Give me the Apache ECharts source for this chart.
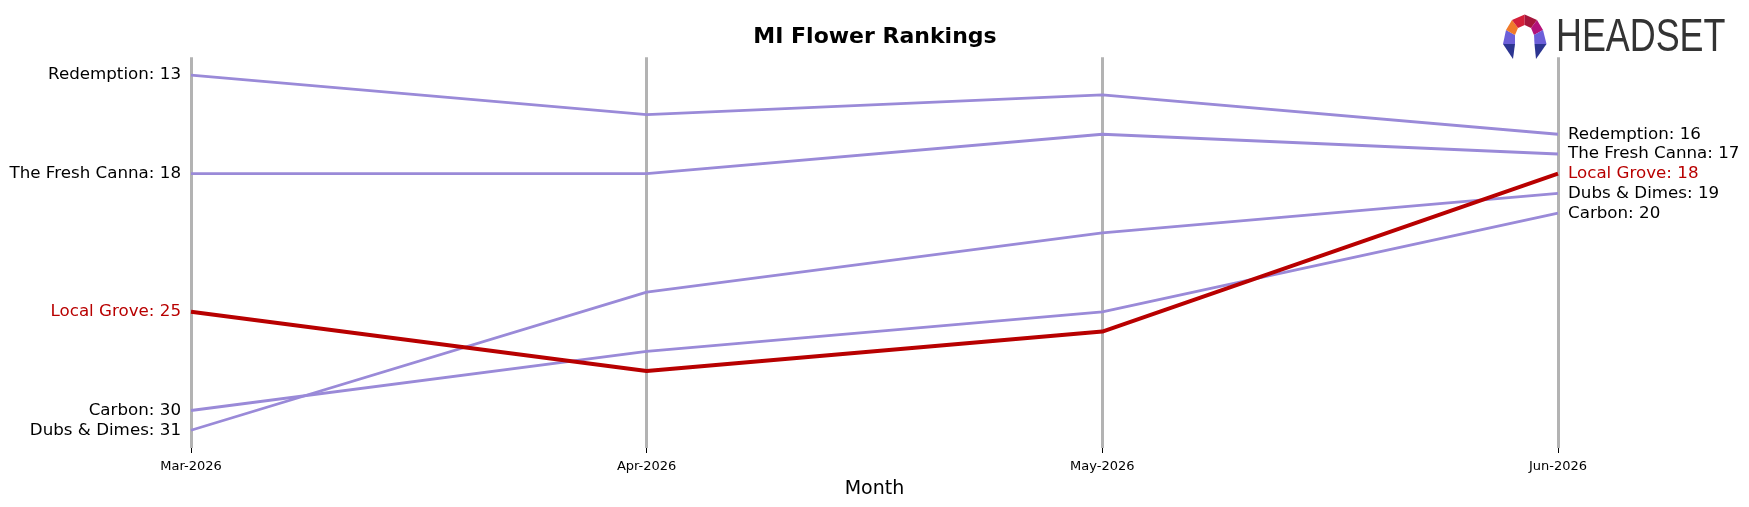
<!DOCTYPE html>
<html>
<head>
<meta charset="utf-8">
<script src="https://cdn.jsdelivr.net/npm/echarts@6/dist/echarts.min.js"></script>
<style>
    html, body { margin: 0; padding: 0; background: #fff; }
    #chart { width: 1749px; height: 507px; }
</style>
</head>
<body>
<div id="chart"></div>
<script>
    var months = ['Mar-2026', 'Apr-2026', 'May-2026', 'Jun-2026'];
    var brands = ['Redemption', 'The Fresh Canna', 'Dubs & Dimes', 'Carbon', 'Local Grove'];
    var redemption = [13, 15, 14, 16];
    var freshCanna = [18, 18, 16, 17];
    var dubsDimes = [31, 24, 21, 19];
    var carbon = [30, 27, 25, 20];
    var localGrove = [25, 28, 26, 18];
    var highlight = 'Local Grove';

    var ranks = [redemption, freshCanna, dubsDimes, carbon, localGrove];
    var purple = '#9a8ad8';
    var red = '#b80000';
    var font = 'DejaVu Sans';

    var chart = echarts.init(document.getElementById('chart'));

    var series = [];
    for (var i = 0; i < brands.length; i++) {
        var isHi = brands[i] == highlight;
        var color = isHi ? red : purple;
        var vals = ranks[i];
        var data = [];
        for (var j = 0; j < vals.length; j++) {
            var item = { value: vals[j] };
            // name labels only at the first and last month
            if (j == 0 || j == vals.length - 1) {
                item.label = {
                    show: true,
                    position: j == 0 ? 'left' : 'right',
                    distance: 10,
                    formatter: brands[i] + ': ' + vals[j],
                    color: isHi ? red : '#000',
                    fontFamily: font,
                    fontSize: 16.7
                };
            }
            data.push(item);
        }
        series.push({
            name: brands[i],
            type: 'line',
            data: data,
            symbol: 'circle',
            symbolSize: 0,
            showSymbol: true,
            silent: true,
            z: isHi ? 5 : 3,
            lineStyle: { color: color, width: isHi ? 4 : 2.8 },
            itemStyle: { color: color }
        });
    }

    // logo pieces
    var outer = [[1503, 44], [1506, 30], [1512, 20], [1524.7, 14.5], [1537, 20], [1543, 30], [1546.5, 44]];
    var inner = [[1515, 44], [1515, 35], [1518, 28], [1524.7, 25], [1531, 28], [1534, 35], [1534.5, 44]];
    var pieceColors = ['#6c5fd9', '#f07a2a', '#d4203a', '#a5163c', '#b3127a', '#6c5fd9'];
    var logo = [];
    for (var k = 0; k < pieceColors.length; k++) {
        logo.push({
            type: 'polygon',
            shape: { points: [outer[k], outer[k + 1], inner[k + 1], inner[k]] },
            style: { fill: pieceColors[k] }
        });
    }
    logo.push({ type: 'polygon', shape: { points: [[1503, 44], [1515, 44], [1513, 59]] }, style: { fill: '#2c3591' } });
    logo.push({ type: 'polygon', shape: { points: [[1534.5, 44], [1546.5, 44], [1536, 59]] }, style: { fill: '#2c3591' } });
    logo.push({
        type: 'text',
        x: 1556, y: 38,
        scaleX: 0.78,
        style: {
            text: 'HEADSET',
            font: '46px "Liberation Sans"',
            fill: '#333',
            verticalAlign: 'middle'
        }
    });
    logo.push({
        type: 'text',
        x: 875, y: 37,
        style: {
            text: 'MI Flower Rankings',
            font: 'bold 22px "DejaVu Sans"',
            fill: '#000',
            align: 'center',
            verticalAlign: 'middle'
        }
    });

    var option = {
        backgroundColor: '#fff',
        animation: false,
        grid: { left: 191, right: 191, top: 57.3, bottom: 59 },
        xAxis: {
            type: 'category',
            data: months,
            boundaryGap: false,
            name: 'Month',
            nameLocation: 'middle',
            nameGap: 32,
            nameTextStyle: { fontFamily: font, fontSize: 19, color: '#000' },
            axisLine: { show: false },
            axisTick: { show: true, length: 5, lineStyle: { color: '#000', width: 1 } },
            axisLabel: { fontFamily: font, fontSize: 13, color: '#000', margin: 12 },
            splitLine: { show: true, lineStyle: { color: '#b3b3b3', width: 3 } }
        },
        yAxis: {
            type: 'value',
            inverse: true,
            min: 12.1,
            max: 31.9,
            axisLine: { show: false },
            axisTick: { show: false },
            axisLabel: { show: false },
            splitLine: { show: false }
        },
        graphic: logo,
        series: series
    };

    chart.setOption(option);
</script>
</body>
</html>
